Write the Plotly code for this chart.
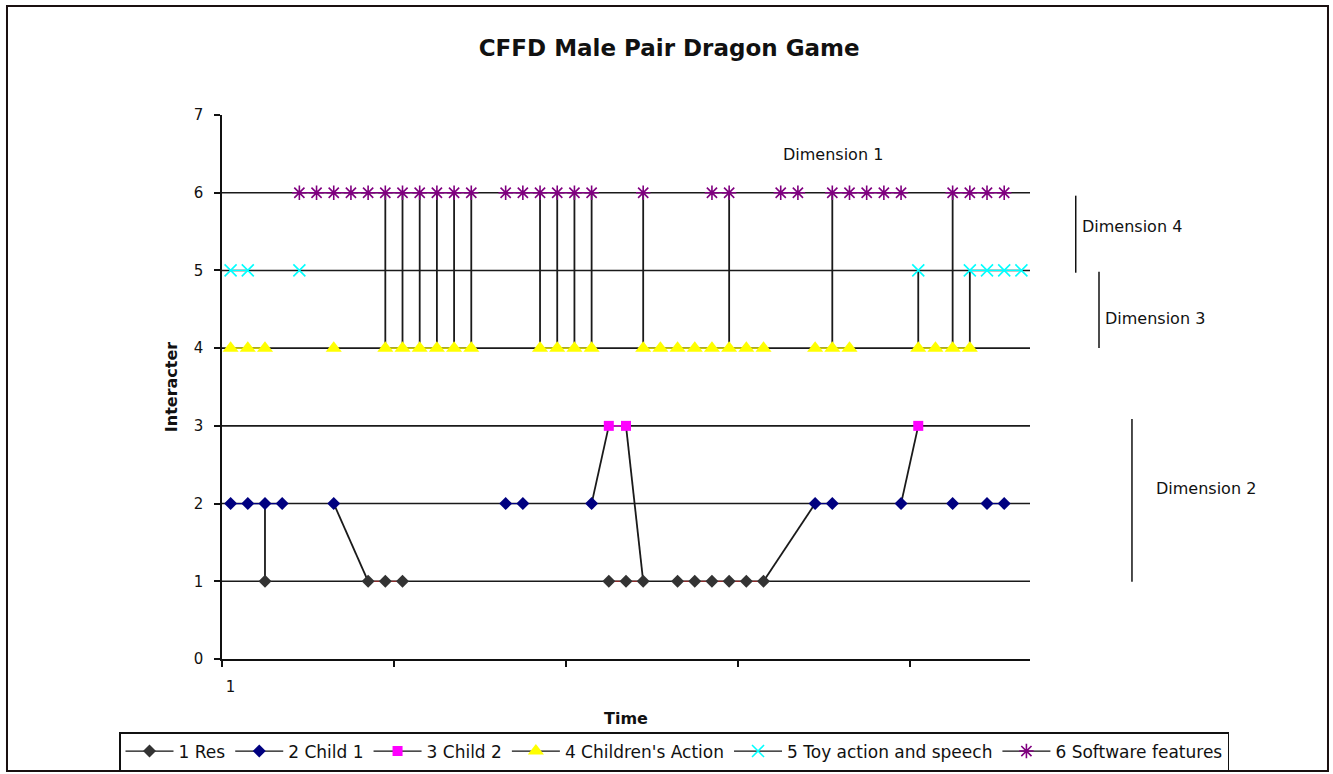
import plotly.graph_objects as go

# ---------------- data ----------------
categories = list(range(1, 48))          # time steps
x_tick_labels = ["1"]
y_tick_values = [0, 1, 2, 3, 4, 5, 6, 7]
y_tick_labels = ["0", "1", "2", "3", "4", "5", "6", "7"]

series_names = ["1 Res", "2 Child 1", "3 Child 2", "4 Children's Action",
                "5 Toy action and speech", "6 Software features"]
series_levels = [1, 2, 3, 4, 5, 6]

res_times = [3, 9, 10, 11, 23, 24, 25, 27, 28, 29, 30, 31, 32]
child1_times = [1, 2, 3, 4, 7, 17, 18, 22, 35, 36, 40, 43, 45, 46]
child2_times = [23, 24, 41]
action_times = [1, 2, 3, 7, 10, 11, 12, 13, 14, 15, 19, 20, 21, 22,
                25, 26, 27, 28, 29, 30, 31, 32, 35, 36, 37, 41, 42, 43, 44]
toy_times = [1, 2, 5, 41, 44, 45, 46, 47]
software_times = [5, 6, 7, 8, 9, 10, 11, 12, 13, 14, 15, 17, 18, 19, 20, 21, 22,
                  25, 29, 30, 33, 34, 36, 37, 38, 39, 40, 43, 44, 45, 46]

# links between interacters (from time, from level) -> (to time, to level)
link_t0 = [3, 7, 10, 11, 12, 13, 14, 15, 19, 20, 21, 22, 22, 24, 25, 30, 32, 36, 40, 41, 43, 44]
link_y0 = [2, 2, 6, 6, 6, 6, 6, 6, 6, 6, 6, 6, 2, 3, 6, 6, 1, 6, 2, 5, 6, 5]
link_t1 = [3, 9, 10, 11, 12, 13, 14, 15, 19, 20, 21, 22, 23, 25, 25, 30, 35, 36, 41, 41, 43, 44]
link_y1 = [1, 1, 4, 4, 4, 4, 4, 4, 4, 4, 4, 4, 3, 1, 4, 4, 2, 4, 3, 4, 4, 4]

dimension_labels = ["Dimension 1", "Dimension 4", "Dimension 3", "Dimension 2"]

# ---------------- styles ----------------
FONT = "DejaVu Sans"
W, H = 1333, 774
series_times = [res_times, child1_times, child2_times, action_times, toy_times, software_times]
marker_colors = ["#333333", "#000080", "#FF00FF", "#FFFF00", "#00FFFF", "#800080"]
line_colors = ["#8b2a2a", "#000080", "#FF00FF", "#FFFF00", "#00FFFF", "#800080"]
symbols = ["diamond", "diamond", "square", "triangle-up", "x-thin-open", "asterisk-open"]
sizes = [10, 10, 10, 14, 12, 12]

fig = go.Figure()

# connector lines
lx, ly = [], []
for a, b, c, d in zip(link_t0, link_y0, link_t1, link_y1):
    lx += [a, c, None]
    ly += [b, d, None]
fig.add_trace(go.Scatter(x=lx, y=ly, mode="lines", line=dict(color="#1a1a1a", width=1.8),
                         showlegend=False, hoverinfo="skip"))

for name, lvl, times, mc, lc, sym, sz in zip(series_names, series_levels, series_times,
                                              marker_colors, line_colors, symbols, sizes):
    yvals = [lvl if t in times else None for t in categories]
    open_sym = sym.endswith("-open")
    marker = dict(symbol=sym, size=sz, color=mc)
    if open_sym:
        marker["line"] = dict(color=mc, width=1.6)
    else:
        marker["line"] = dict(width=0)
    fig.add_trace(go.Scatter(x=categories, y=yvals, mode="lines+markers", name=name,
                             line=dict(color=lc, width=1.2), marker=marker,
                             connectgaps=False, showlegend=False))
    if sym == "asterisk-open":
        fig.add_trace(go.Scatter(x=categories, y=yvals, mode="markers",
                                 marker=dict(symbol="circle", size=4, color=mc),
                                 showlegend=False, hoverinfo="skip"))
    # legend entry (black line, coloured marker)
    fig.add_trace(go.Scatter(x=[None], y=[None], mode="lines+markers", name=name,
                             line=dict(color="#111111", width=1.2), marker=marker))

# gridlines at each level
shapes = []
for lvl in series_levels:
    shapes.append(dict(type="line", xref="paper", x0=0, x1=1, yref="y", y0=lvl, y1=lvl,
                       line=dict(color="#1a1a1a", width=1.6), layer="below"))

# dimension bars (paper coords)
dim_bars = [(1.0566, 0.7101, 0.8517), (1.0854, 0.5717, 0.7119), (1.1262, 0.1421, 0.4412)]
for x, y0, y1 in dim_bars:
    shapes.append(dict(type="line", xref="paper", yref="paper", x0=x, x1=x, y0=y0, y1=y1,
                       line=dict(color="#111111", width=1.5)))

# outer border
shapes.append(dict(type="rect", xref="paper", yref="paper", x0=-0.2661, x1=1.3688,
                   y0=-0.2059, y1=1.2004, line=dict(color="#1a1010", width=2)))

annotations = [
    dict(text=dimension_labels[0], xref="paper", yref="paper", x=0.7562, y=0.9265,
         xanchor="center", yanchor="middle", showarrow=False, font=dict(size=16)),
    dict(text=dimension_labels[1], xref="paper", yref="paper", x=1.0619, y=0.7947,
         xanchor="left", yanchor="middle", showarrow=False, font=dict(size=16)),
    dict(text=dimension_labels[2], xref="paper", yref="paper", x=1.0900, y=0.6268,
         xanchor="left", yanchor="middle", showarrow=False, font=dict(size=16)),
    dict(text=dimension_labels[3], xref="paper", yref="paper", x=1.1535, y=0.3143,
         xanchor="left", yanchor="middle", showarrow=False, font=dict(size=16)),
]

fig.update_layout(
    width=W, height=H,
    margin=dict(l=222, r=303, t=115, b=115, autoexpand=False),
    paper_bgcolor="white", plot_bgcolor="white",
    font=dict(family=FONT, color="#111111", size=15),
    title=dict(text="CFFD Male Pair Dragon Game", x=0.502, xanchor="center",
               y=1 - 48 / H, yanchor="middle",
               font=dict(family=FONT, size=23, weight="bold", color="#111111")),
    xaxis=dict(range=[0.5, 47.5], showgrid=False, zeroline=False, showline=True,
               automargin=False,
               linecolor="#111111", linewidth=1.5, tickmode="array",
               tickvals=categories[:len(x_tick_labels)], ticktext=x_tick_labels,
               ticks="", ticklabelstandoff=13, tickfont=dict(size=15),
               minor=dict(tickmode="array", tickvals=[0.5, 10.5, 20.5, 30.5, 40.5],
                          ticks="outside", ticklen=6, tickcolor="#111111", tickwidth=1.5,
                          showgrid=False),
               title=dict(text="Time", standoff=18,
                          font=dict(size=16, weight="bold", color="#111111"))),
    yaxis=dict(range=[0, 7], showgrid=False, zeroline=False, showline=True,
               automargin=False,
               linecolor="#111111", linewidth=1.5, tickmode="array",
               tickvals=y_tick_values, ticktext=y_tick_labels,
               ticks="outside", ticklen=6, tickcolor="#111111", tickwidth=1.5,
               ticklabelstandoff=8, tickfont=dict(size=15),
               title=dict(text="Interacter", standoff=12,
                          font=dict(size=16, weight="bold", color="#111111"))),
    legend=dict(orientation="h", xref="paper", yref="paper",
                x=(1229 - 222) / 808, xanchor="right", y=(659 - 732) / 544, yanchor="top",
                bordercolor="#111111", borderwidth=1.5, bgcolor="white",
                font=dict(size=17, color="#111111"), itemwidth=48,
                tracegroupgap=0),
    shapes=shapes,
    annotations=annotations,
    showlegend=True,
)

fig.write_html("out.html",
               config={"displayModeBar": False},
               post_script="document.body.style.margin='0px';"
                           "document.body.style.overflow='hidden';")
